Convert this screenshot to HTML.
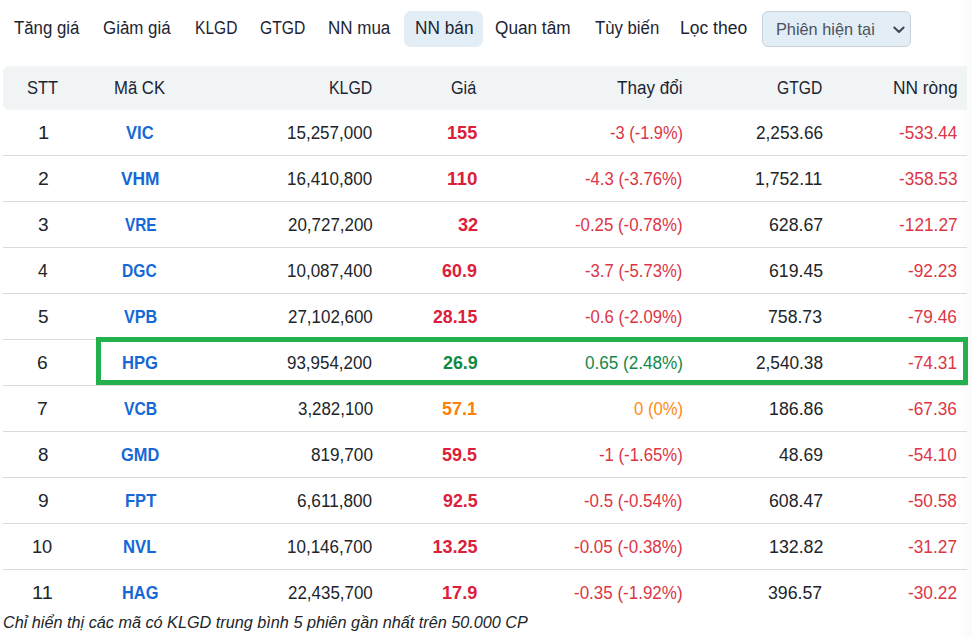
<!DOCTYPE html><html><head><meta charset="utf-8"><title>NN bán</title><style>
*{box-sizing:border-box;margin:0;padding:0}
html,body{width:972px;height:637px;overflow:hidden;background:#fff}
body{position:relative;font-family:"Liberation Sans",sans-serif;font-size:18.0px;color:#212529}
.shade{position:absolute;left:958px;top:0;width:14px;height:637px;background:linear-gradient(to right,rgba(0,0,0,0) 0,rgba(0,0,0,0.012) 9px,rgba(0,0,0,0.025) 14px)}
.t{position:absolute;white-space:nowrap;line-height:24px;height:24px;transform-origin:0 0}
.nav{color:#1c2433}
.actbg{position:absolute;left:404px;top:11px;width:79px;height:36px;background:#e2edf5;border-radius:7px}
.sel{position:absolute;left:761.5px;top:11px;width:149px;height:35.5px;background:#e2edf5;border:1px solid #c8d1d9;border-radius:6px}
.selt{color:#4a5260}
.chev{position:absolute;left:892px;top:24px}
.thead{position:absolute;left:3px;top:66px;width:964px;height:44px;background:#f1f4f5;border-radius:6px 0 0 6px}
.hd{color:#1c2433}
.line{position:absolute;left:3px;width:964px;height:1px;background:#dadada}
.b{font-weight:bold}
.sym{color:#1668d6;font-weight:bold}
.pr{color:#dc2039}.pg{color:#0f8a40}.po{color:#fd8008}
.tr{color:#dc3545}.tg{color:#14894a}.to{color:#fd8a14}
.foot{font-style:italic;color:#212529}
.hl{position:absolute;left:96px;top:337px;width:872px;height:48px;border:5px solid #22b14c}
</style></head><body>
<div class="shade"></div>
<div class="actbg"></div>
<div class="t nav" style="left:13.64px;top:15.90px;transform:scaleX(0.9338)">Tăng giá</div>
<div class="t nav" style="left:102.54px;top:15.90px;transform:scaleX(0.9385)">Giảm giá</div>
<div class="t nav" style="left:194.55px;top:15.90px;transform:scaleX(0.8650)">KLGD</div>
<div class="t nav" style="left:259.62px;top:15.90px;transform:scaleX(0.8691)">GTGD</div>
<div class="t nav" style="left:328.35px;top:15.90px;transform:scaleX(0.9438)">NN mua</div>
<div class="t nav" style="left:414.60px;top:15.90px;transform:scaleX(0.9582)">NN bán</div>
<div class="t nav" style="left:495.40px;top:15.90px;transform:scaleX(0.9556)">Quan tâm</div>
<div class="t nav" style="left:594.50px;top:15.90px;transform:scaleX(0.9297)">Tùy biến</div>
<div class="t nav" style="left:680.39px;top:15.90px;transform:scaleX(0.9723)">Lọc theo</div>
<div class="sel"></div>
<div class="t selt" style="left:776.22px;top:18.10px;font-size:17.0px;transform:scaleX(0.9587)">Phiên hiện tại</div>
<svg class="chev" width="14" height="10" viewBox="0 0 14 10"><path d="M2.3 3.5 L7 8 L11.6 3.5" fill="none" stroke="#3c4550" stroke-width="2" stroke-linecap="round" stroke-linejoin="round"/></svg>
<div class="thead"></div>
<div class="t hd" style="left:27.31px;top:75.90px;transform:scaleX(0.9178)">STT</div>
<div class="t hd" style="left:114.31px;top:75.90px;transform:scaleX(0.9284)">Mã CK</div>
<div class="t hd" style="left:329.21px;top:75.90px;transform:scaleX(0.8825)">KLGD</div>
<div class="t hd" style="left:451.42px;top:75.90px;transform:scaleX(0.9014)">Giá</div>
<div class="t hd" style="left:616.98px;top:75.90px;transform:scaleX(0.9506)">Thay đổi</div>
<div class="t hd" style="left:777.43px;top:75.90px;transform:scaleX(0.8692)">GTGD</div>
<div class="t hd" style="left:892.60px;top:75.90px;transform:scaleX(0.9629)">NN ròng</div>
<div class="line" style="top:155px"></div>
<div class="t " style="left:37.57px;top:120.80px;transform:scaleX(1.1221)">1</div>
<div class="t sym b" style="left:126.45px;top:120.80px;transform:scaleX(0.9191)">VIC</div>
<div class="t " style="left:287.34px;top:120.80px;transform:scaleX(0.9452)">15,257,000</div>
<div class="t pr b" style="left:446.90px;top:120.80px;transform:scaleX(1.0062)">155</div>
<div class="t tr" style="left:609.61px;top:120.80px;transform:scaleX(0.9134)">-3 (-1.9%)</div>
<div class="t " style="left:755.68px;top:120.80px;transform:scaleX(0.9569)">2,253.66</div>
<div class="t tr" style="left:898.52px;top:120.80px;transform:scaleX(0.9535)">-533.44</div>
<div class="line" style="top:201px"></div>
<div class="t " style="left:37.58px;top:166.80px;transform:scaleX(1.0757)">2</div>
<div class="t sym b" style="left:121.38px;top:166.80px;transform:scaleX(0.9645)">VHM</div>
<div class="t " style="left:287.34px;top:166.80px;transform:scaleX(0.9452)">16,410,800</div>
<div class="t pr b" style="left:446.64px;top:166.80px;transform:scaleX(1.0472)">110</div>
<div class="t tr" style="left:585.31px;top:166.80px;transform:scaleX(0.9276)">-4.3 (-3.76%)</div>
<div class="t " style="left:755.31px;top:166.80px;transform:scaleX(0.9809)">1,752.11</div>
<div class="t tr" style="left:898.52px;top:166.80px;transform:scaleX(0.9581)">-358.53</div>
<div class="line" style="top:247px"></div>
<div class="t " style="left:37.72px;top:212.80px;transform:scaleX(1.0560)">3</div>
<div class="t sym b" style="left:124.50px;top:212.80px;transform:scaleX(0.8532)">VRE</div>
<div class="t " style="left:287.68px;top:212.80px;transform:scaleX(0.9410)">20,727,200</div>
<div class="t pr b" style="left:457.60px;top:212.80px;transform:scaleX(1.0103)">32</div>
<div class="t tr" style="left:575.30px;top:212.80px;transform:scaleX(0.9342)">-0.25 (-0.78%)</div>
<div class="t " style="left:768.71px;top:212.80px;transform:scaleX(0.9848)">628.67</div>
<div class="t tr" style="left:898.52px;top:212.80px;transform:scaleX(0.9608)">-121.27</div>
<div class="line" style="top:293px"></div>
<div class="t " style="left:38.31px;top:258.80px;transform:scaleX(0.9681)">4</div>
<div class="t sym b" style="left:122.40px;top:258.80px;transform:scaleX(0.8664)">DGC</div>
<div class="t " style="left:287.34px;top:258.80px;transform:scaleX(0.9452)">10,087,400</div>
<div class="t pr b" style="left:442.43px;top:258.80px;transform:scaleX(0.9943)">60.9</div>
<div class="t tr" style="left:585.31px;top:258.80px;transform:scaleX(0.9276)">-3.7 (-5.73%)</div>
<div class="t " style="left:768.71px;top:258.80px;transform:scaleX(0.9822)">619.45</div>
<div class="t tr" style="left:907.70px;top:258.80px;transform:scaleX(0.9599)">-92.23</div>
<div class="line" style="top:339px"></div>
<div class="t " style="left:37.70px;top:304.80px;transform:scaleX(1.0561)">5</div>
<div class="t sym b" style="left:123.86px;top:304.80px;transform:scaleX(0.8970)">VPB</div>
<div class="t " style="left:287.68px;top:304.80px;transform:scaleX(0.9410)">27,102,600</div>
<div class="t pr b" style="left:432.93px;top:304.80px;transform:scaleX(0.9823)">28.15</div>
<div class="t tr" style="left:585.31px;top:304.80px;transform:scaleX(0.9276)">-0.6 (-2.09%)</div>
<div class="t " style="left:768.39px;top:304.80px;transform:scaleX(0.9809)">758.73</div>
<div class="t tr" style="left:907.70px;top:304.80px;transform:scaleX(0.9590)">-79.46</div>
<div class="line" style="top:385px"></div>
<div class="t " style="left:37.43px;top:350.80px;transform:scaleX(1.0680)">6</div>
<div class="t sym b" style="left:122.40px;top:350.80px;transform:scaleX(0.9232)">HPG</div>
<div class="t " style="left:287.39px;top:350.80px;transform:scaleX(0.9416)">93,954,200</div>
<div class="t pg b" style="left:442.64px;top:350.80px;transform:scaleX(0.9915)">26.9</div>
<div class="t tg" style="left:584.79px;top:350.80px;transform:scaleX(0.9512)">0.65 (2.48%)</div>
<div class="t " style="left:755.70px;top:350.80px;transform:scaleX(0.9566)">2,540.38</div>
<div class="t tr" style="left:907.70px;top:350.80px;transform:scaleX(0.9600)">-74.31</div>
<div class="line" style="top:431px"></div>
<div class="t " style="left:37.49px;top:396.80px;transform:scaleX(1.0767)">7</div>
<div class="t sym b" style="left:123.68px;top:396.80px;transform:scaleX(0.8732)">VCB</div>
<div class="t " style="left:297.51px;top:396.80px;transform:scaleX(0.9380)">3,282,100</div>
<div class="t po b" style="left:442.48px;top:396.80px;transform:scaleX(0.9948)">57.1</div>
<div class="t to" style="left:633.50px;top:396.80px;transform:scaleX(0.9276)">0 (0%)</div>
<div class="t " style="left:768.59px;top:396.80px;transform:scaleX(0.9866)">186.86</div>
<div class="t tr" style="left:907.70px;top:396.80px;transform:scaleX(0.9590)">-67.36</div>
<div class="line" style="top:477px"></div>
<div class="t " style="left:37.78px;top:442.80px;transform:scaleX(1.0431)">8</div>
<div class="t sym b" style="left:121.04px;top:442.80px;transform:scaleX(0.9104)">GMD</div>
<div class="t " style="left:310.62px;top:442.80px;transform:scaleX(0.9518)">819,700</div>
<div class="t pr b" style="left:442.28px;top:442.80px;transform:scaleX(0.9956)">59.5</div>
<div class="t tr" style="left:599.29px;top:442.80px;transform:scaleX(0.9300)">-1 (-1.65%)</div>
<div class="t " style="left:778.81px;top:442.80px;transform:scaleX(0.9751)">48.69</div>
<div class="t tr" style="left:907.70px;top:442.80px;transform:scaleX(0.9545)">-54.10</div>
<div class="line" style="top:523px"></div>
<div class="t " style="left:37.61px;top:488.80px;transform:scaleX(1.0651)">9</div>
<div class="t sym b" style="left:124.52px;top:488.80px;transform:scaleX(0.9190)">FPT</div>
<div class="t " style="left:297.31px;top:488.80px;transform:scaleX(0.9545)">6,611,800</div>
<div class="t pr b" style="left:442.70px;top:488.80px;transform:scaleX(0.9890)">92.5</div>
<div class="t tr" style="left:584.30px;top:488.80px;transform:scaleX(0.9377)">-0.5 (-0.54%)</div>
<div class="t " style="left:768.71px;top:488.80px;transform:scaleX(0.9848)">608.47</div>
<div class="t tr" style="left:907.70px;top:488.80px;transform:scaleX(0.9585)">-50.58</div>
<div class="line" style="top:569px"></div>
<div class="t " style="left:32.38px;top:534.80px;transform:scaleX(1.0114)">10</div>
<div class="t sym b" style="left:123.49px;top:534.80px;transform:scaleX(0.9254)">NVL</div>
<div class="t " style="left:287.34px;top:534.80px;transform:scaleX(0.9452)">10,146,700</div>
<div class="t pr b" style="left:432.53px;top:534.80px">13.25</div>
<div class="t tr" style="left:574.28px;top:534.80px;transform:scaleX(0.9438)">-0.05 (-0.38%)</div>
<div class="t " style="left:768.59px;top:534.80px;transform:scaleX(0.9883)">132.82</div>
<div class="t tr" style="left:907.70px;top:534.80px;transform:scaleX(0.9601)">-31.27</div>
<div class="t " style="left:32.39px;top:580.80px;transform:scaleX(1.1106)">11</div>
<div class="t sym b" style="left:122.20px;top:580.80px;transform:scaleX(0.9090)">HAG</div>
<div class="t " style="left:287.68px;top:580.80px;transform:scaleX(0.9410)">22,435,700</div>
<div class="t pr b" style="left:442.23px;top:580.80px;transform:scaleX(1.0079)">17.9</div>
<div class="t tr" style="left:574.28px;top:580.80px;transform:scaleX(0.9438)">-0.35 (-1.92%)</div>
<div class="t " style="left:768.43px;top:580.80px;transform:scaleX(0.9843)">396.57</div>
<div class="t tr" style="left:907.70px;top:580.80px;transform:scaleX(0.9601)">-30.22</div>
<div class="hl"></div>
<div class="t foot" style="left:3.47px;top:610.70px;font-size:16.0px;transform:scaleX(1.0140)">Chỉ hiển thị các mã có KLGD trung bình 5 phiên gần nhất trên 50.000 CP</div>
</body></html>
